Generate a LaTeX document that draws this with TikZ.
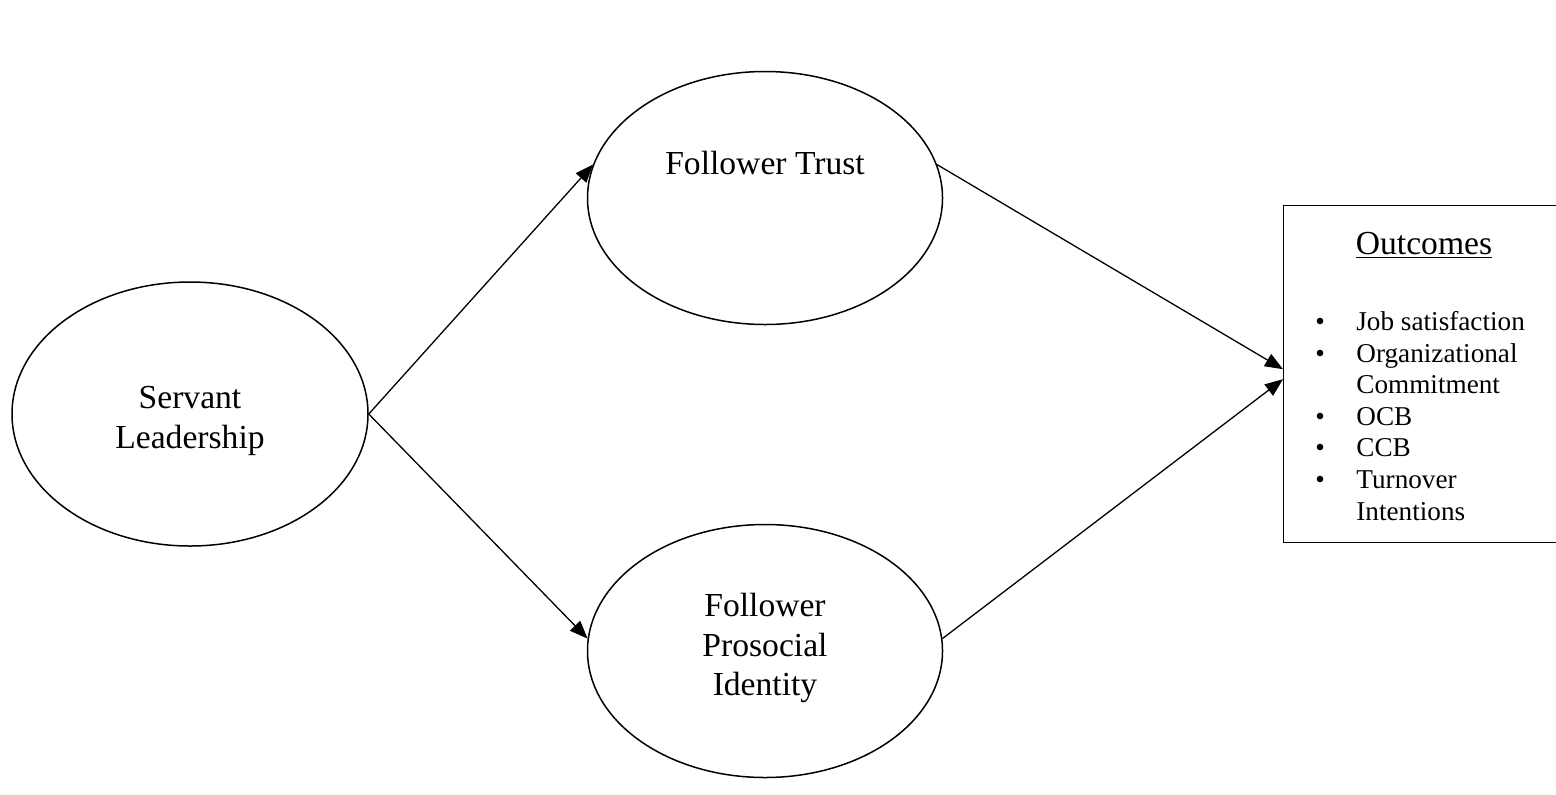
\documentclass[tikz,border=0pt]{standalone}
\usepackage{fontspec}
\setmainfont{Liberation Serif}
\usetikzlibrary{arrows.meta,positioning,calc,shapes}
\tikzset{
  construct/.style={ellipse, draw, line width=0.75pt, inner sep=0pt},
  ctext/.style={align=center, inner sep=0pt, font=\fontsize{16.8}{19.8}\selectfont},
  outbox/.style={rectangle, draw, line width=0.7pt, minimum width=200pt, minimum height=168.5pt, inner sep=0pt},
  listtxt/.style={align=left, inner sep=0pt, font=\fontsize{13.6}{15.8}\selectfont},
  pathln/.style={-{Triangle[length=9pt,width=7pt]}, line width=0.65pt},
}
\newcommand{\bul}{\makebox[20.5pt][l]{\textbullet}}

\begin{document}
\begin{tikzpicture}[x=0.5pt,y=-0.5pt]
    \useasboundingbox (0,0) rectangle (1556,794);
    \node[construct, minimum width=178pt, minimum height=132pt] (servant) at (190,414) {};
    \node[ctext] (servtxt) at (190,421) {Servant\\[0.6pt]Leadership};
    \node[construct, minimum width=177.5pt, minimum height=126.5pt] (trust) at (765,198) {};
    \node[ctext, anchor=base] (trusttxt) at (765,174) {Follower Trust};
    \node[construct, minimum width=177.5pt, minimum height=126.5pt] (prosoc) at (765,651) {};
    \node[ctext] (prosoctxt) at (765,648) {Follower\\Prosocial\\Identity};
    % outcomes box, cut at the right edge
    \node[outbox, anchor=north west] (outc) at (1283,205) {};
    \node[ctext, anchor=base] (outhd) at (1424,254) {\underline{Outcomes}};
    \node[listtxt, anchor=north west] (outlst) at (1315,311)
      {\bul Job satisfaction\\ \bul Organizational\\ \hspace*{20.5pt}Commitment\\ \bul OCB\\ \bul CCB\\ \bul Turnover\\ \hspace*{20.5pt}Intentions};
    \coordinate (inA) at ([yshift=2.5pt]outc.west);
    \coordinate (inB) at ([yshift=-2.5pt]outc.west);
    % paths
    \draw[pathln] (servant.east) -- (trust.169);
    \draw[pathln] (servant.east) -- (prosoc.176);
    \draw[pathln] (trust.11) -- (inA);
    \draw[pathln] (prosoc.4) -- (inB);
\end{tikzpicture}
\end{document}
